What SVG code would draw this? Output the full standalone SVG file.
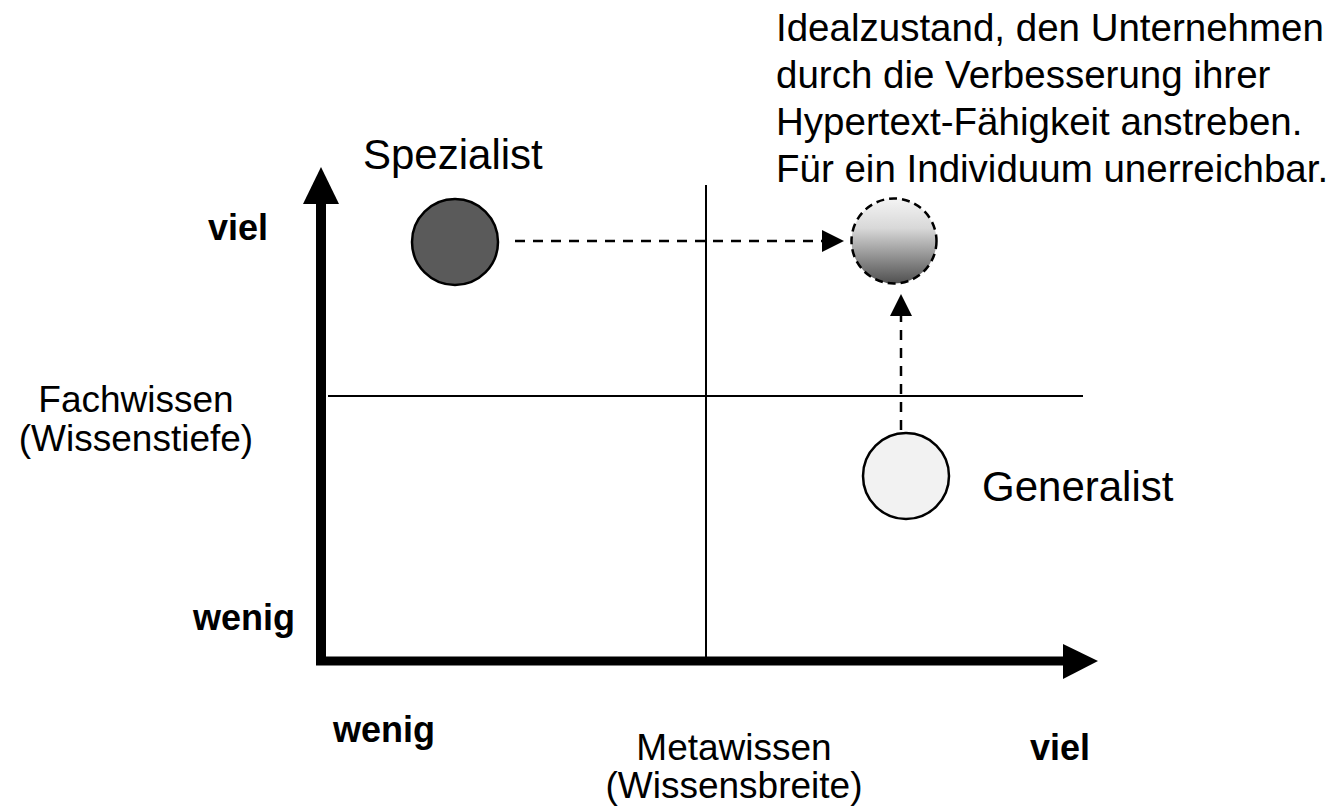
<svg xmlns="http://www.w3.org/2000/svg" width="1340" height="812" viewBox="0 0 1340 812">
<style>
text{font-family:"Liberation Sans",Arial,sans-serif;fill:#000}
.n{font-size:37px}
.big{font-size:42px}
.b{font-size:36px;font-weight:bold}
.t{font-size:38.5px}
.thin{stroke:#000;stroke-width:2;fill:none}
.dash{stroke:#000;stroke-width:2.5;stroke-dasharray:10 8;fill:none}
</style>
<defs>
<linearGradient id="g" x1="0" y1="0" x2="0" y2="1">
<stop offset="0" stop-color="#f4f4f4"/>
<stop offset="0.35" stop-color="#d8d8d8"/>
<stop offset="1" stop-color="#505050"/>
</linearGradient>
</defs>
<rect width="1340" height="812" fill="#fff"/>
<g id="axes">
<line class="thin" x1="706" y1="185" x2="706" y2="657"/>
<line class="thin" x1="328" y1="396" x2="1083" y2="396"/>
<path d="M321,665 L321,200" stroke="#000" stroke-width="10" fill="none"/>
<path d="M316,661 L1066,661" stroke="#000" stroke-width="9" fill="none"/>
<path d="M321,167 L339,204 L303,204 Z" fill="#000"/>
<path d="M1098,661 L1063,644 L1063,679 Z" fill="#000"/>
</g>
<g id="connectors">
<line class="dash" x1="515" y1="241" x2="824" y2="241"/>
<path d="M844,241 L822,230 L822,252 Z" fill="#000"/>
<line class="dash" x1="901" y1="430" x2="901" y2="314"/>
<path d="M901,294 L890,316 L912,316 Z" fill="#000"/>
</g>
<g id="spezialist">
<circle cx="455" cy="242" r="43" fill="#5a5a5a" stroke="#000" stroke-width="2.5"/>
<text class="big" x="363" y="169">Spezialist</text>
</g>
<g id="ideal">
<circle cx="894" cy="241" r="42.5" fill="url(#g)" stroke="#000" stroke-width="2.5" stroke-dasharray="8 5"/>
<text class="t" x="776" y="41">Idealzustand, den Unternehmen</text>
<text class="t" x="776" y="88">durch die Verbesserung ihrer</text>
<text class="t" x="776" y="135">Hypertext-Fähigkeit anstreben.</text>
<text class="t" x="776" y="182">Für ein Individuum unerreichbar.</text>
</g>
<g id="generalist">
<circle cx="906" cy="476" r="43" fill="#f2f2f2" stroke="#000" stroke-width="2.5"/>
<text class="big" x="982" y="501">Generalist</text>
</g>
<g id="labels">
<text class="b" x="268" y="240" text-anchor="end">viel</text>
<text class="b" x="193" y="630">wenig</text>
<text class="b" x="333" y="742">wenig</text>
<text class="b" x="1030" y="760">viel</text>
<text class="n" x="136" y="412" text-anchor="middle">Fachwissen</text>
<text class="n" x="136" y="451" text-anchor="middle">(Wissenstiefe)</text>
<text class="n" x="734" y="760" text-anchor="middle">Metawissen</text>
<text class="n" x="734" y="798" text-anchor="middle">(Wissensbreite)</text>
</g>
</svg>
